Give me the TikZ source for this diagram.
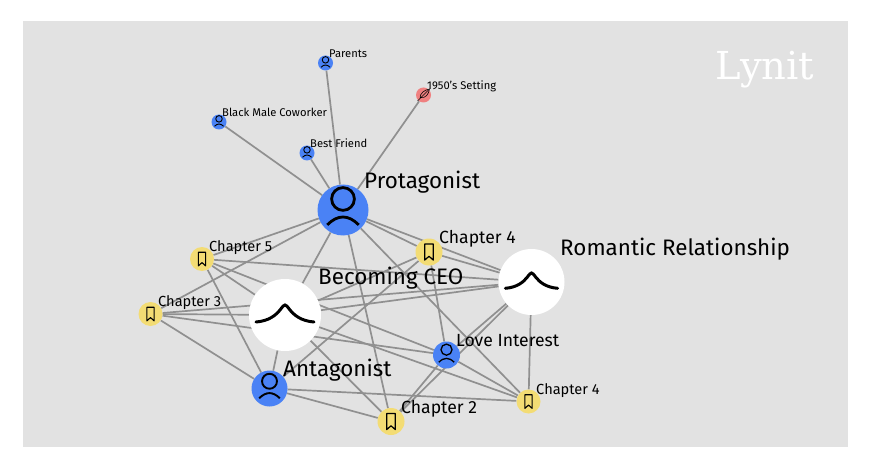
\documentclass[tikz,border=0pt]{standalone}
\usepackage{fontspec}
\setmainfont{Fira Sans}
\newfontfamily\logofont{DejaVu Serif}
\usetikzlibrary{backgrounds}
\definecolor{panelgray}{HTML}{E2E2E2}
\definecolor{edgegray}{HTML}{909090}
\definecolor{charblue}{HTML}{4A82F5}
\definecolor{chapyellow}{HTML}{F3DC74}
\definecolor{worldred}{HTML}{EF8080}
\tikzset{
	edge/.style={draw=edgegray, line width=1.7pt},
	vertex/.style={circle, inner sep=0pt, minimum size=#1},
	charnode/.style={vertex=#1, fill=charblue},
	chapnode/.style={vertex=#1, fill=chapyellow},
	worldnode/.style={vertex=#1, fill=worldred},
	plotnode/.style={vertex=#1, fill=white},
	biglabel/.style={anchor=base west, inner sep=0pt, font=\fontsize{22.4}{24}\selectfont},
	midlabel/.style={anchor=base west, inner sep=0pt, font=\fontsize{17.6}{18}\selectfont},
	lowlabel/.style={anchor=base west, inner sep=0pt, font=\fontsize{14.6}{15}\selectfont},
	smalllabel/.style={anchor=base west, inner sep=0pt, font=\fontsize{11.2}{12}\selectfont},
	person/.pic={
		\draw [line width=\pgfkeysvalueof{/tikz/iconline}] (0,-6.3) circle (6.5);
		\draw [line width=\pgfkeysvalueof{/tikz/iconline}] (-9,8.5) .. controls (-3,2.5) and (3,2.5) .. (9,8.5);
	},
	bookmark/.pic={
		\draw [line width=\pgfkeysvalueof{/tikz/iconline}, line join=round] (-4.5,-8.5) -- (4.5,-8.5) -- (4.5,8.5) -- (0,4.5) -- (-4.5,8.5) -- cycle;
	},
	quill/.pic={
		\draw [line width=0.6pt] (-7,7) -- (6,-6);
		\draw [line width=0.6pt] (-4,3) .. controls (-4,-2) and (1,-6) .. (7,-7) .. controls (6,-1) and (3,4) .. (-4,3);
	},
	hump/.pic={
		\draw [line width=3pt, line cap=round] (-29,7) .. controls (-16,6) and (-9,0) .. (-5,-5) .. controls (-2,-9) and (-1,-10) .. (0,-10) .. controls (1,-10) and (2,-9) .. (5,-5) .. controls (9,0) and (16,6) .. (29,7);
	},
	iconline/.initial=1.5pt,
}

\begin{document}
\begin{tikzpicture}[x=1pt, y=-1pt]
	\useasboundingbox (0,0) rectangle (875,473);

	% nodes
	\node [charnode=51] (protagonist) at (343,210) {};
	\node [charnode=36] (antagonist) at (269.5,388.5) {};
	\node [charnode=27] (loveinterest) at (446.5,355) {};
	\node [charnode=15] (parents) at (325.5,63) {};
	\node [charnode=15] (coworker) at (219,122) {};
	\node [charnode=15] (bestfriend) at (307,153) {};
	\node [worldnode=15] (setting) at (423.5,95) {};
	\node [plotnode=72] (ceo) at (285,315) {};
	\node [plotnode=66] (romance) at (531.5,282) {};
	\node [chapnode=24] (chapfive) at (202,259) {};
	\node [chapnode=24] (chapthree) at (150.5,314) {};
	\node [chapnode=27] (chapfoura) at (429,252) {};
	\node [chapnode=27] (chaptwo) at (391,421.5) {};
	\node [chapnode=24] (chapfourb) at (528.5,401.5) {};

	% connectors
	\begin{scope}[on background layer]
		\fill [panelgray] (23,21) rectangle (848,447);
		\draw [edge] (protagonist) -- (parents);
		\draw [edge] (protagonist) -- (setting);
		\draw [edge] (protagonist) -- (coworker);
		\draw [edge] (protagonist) -- (bestfriend);
		\draw [edge] (protagonist) -- (chapfive);
		\draw [edge] (protagonist) -- (chapthree);
		\draw [edge] (protagonist) -- (ceo);
		\draw [edge] (protagonist) -- (chaptwo);
		\draw [edge] (protagonist) -- (chapfourb);
		\draw [edge] (protagonist) -- (chapfoura);
		\draw [edge] (protagonist) -- (romance);
		\draw [edge] (chapfive) -- (romance);
		\draw [edge] (chapfive) -- (ceo);
		\draw [edge] (chapfive) -- (loveinterest);
		\draw [edge] (chapfive) -- (antagonist);
		\draw [edge] (chapthree) -- (romance);
		\draw [edge] (chapthree) -- (ceo);
		\draw [edge] (chapthree) -- (loveinterest);
		\draw [edge] (chapthree) -- (antagonist);
		\draw [edge] (antagonist) -- (ceo);
		\draw [edge] (antagonist) -- (chapfoura);
		\draw [edge] (antagonist) -- (chaptwo);
		\draw [edge] (antagonist) -- (chapfourb);
		\draw [edge] (ceo) -- (chapfoura);
		\draw [edge] (ceo) -- (romance);
		\draw [edge] (ceo) -- (chaptwo);
		\draw [edge] (ceo) -- (chapfourb);
		\draw [edge] (chapfoura) -- (romance);
		\draw [edge] (chapfoura) -- (loveinterest);
		\draw [edge] (romance) -- (loveinterest);
		\draw [edge] (romance) -- (chaptwo);
		\draw [edge] (romance) -- (chapfourb);
		\draw [edge] (loveinterest) -- (chaptwo);
		\draw [edge] (loveinterest) -- (chapfourb);
	\end{scope}

	% icons
	\pic [scale=1.75, iconline=2.8pt] at (protagonist) {person};
	\pic [scale=1.15, iconline=1.9pt] at (antagonist) {person};
	\pic [scale=0.85, iconline=1.3pt] at (loveinterest) {person};
	\pic [scale=0.5, iconline=0.9pt] at (parents) {person};
	\pic [scale=0.5, iconline=0.9pt] at (coworker) {person};
	\pic [scale=0.5, iconline=0.9pt] at (bestfriend) {person};
	\pic [scale=0.85] at (setting) {quill};
	\pic at (ceo) {hump};
	\pic [scale=0.9] at (romance) {hump};
	\pic [scale=0.8, iconline=1.1pt] at (chapfive) {bookmark};
	\pic [scale=0.8, iconline=1.1pt] at (chapthree) {bookmark};
	\pic [scale=0.95, iconline=1.2pt] at (chapfoura) {bookmark};
	\pic [scale=0.95, iconline=1.2pt] at (chaptwo) {bookmark};
	\pic [scale=0.8, iconline=1.1pt] at (chapfourb) {bookmark};

	% labels
	\node [biglabel] (protagonistlabel) at (364,189) {Protagonist};
	\node [biglabel] (ceolabel) at (318,284) {Becoming CEO};
	\node [biglabel] (romancelabel) at (560,255) {Romantic Relationship};
	\node [biglabel] (antagonistlabel) at (283,376) {Antagonist};
	\node [midlabel] (loveinterestlabel) at (456,346) {Love Interest};
	\node [midlabel] (chapfouralabel) at (439,243) {Chapter 4};
	\node [midlabel] (chaptwolabel) at (401,413) {Chapter 2};
	\node [lowlabel] (chapfourblabel) at (536,394) {Chapter 4};
	\node [lowlabel] (chapfivelabel) at (209,251) {Chapter 5};
	\node [lowlabel] (chapthreelabel) at (158,306) {Chapter 3};
	\node [smalllabel] (parentslabel) at (329,58) {Parents};
	\node [smalllabel] (settinglabel) at (427,90) {1950's Setting};
	\node [smalllabel] (coworkerlabel) at (222,117) {Black Male Coworker};
	\node [smalllabel] (bestfriendlabel) at (310,148) {Best Friend};
	\node [anchor=base west, inner sep=0pt, text=white, font=\logofont\fontsize{38.5}{40}\selectfont] (logo) at (715,80) {Lynit};
\end{tikzpicture}
\end{document}
